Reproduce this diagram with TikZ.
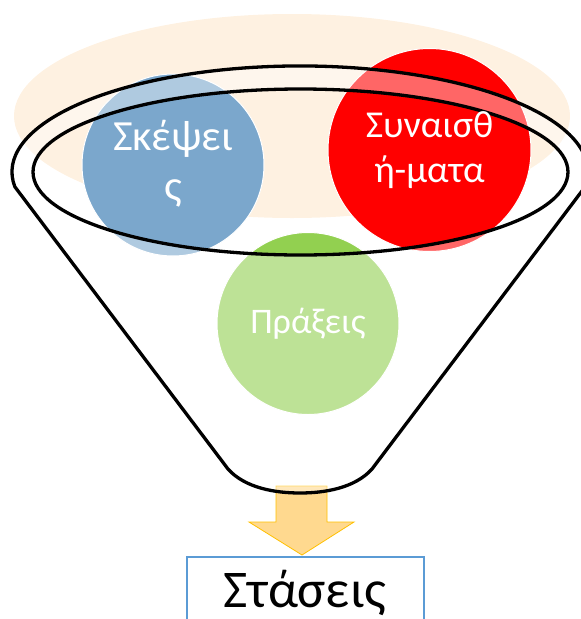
\documentclass[tikz,border=0pt]{standalone}
\usepackage{fontspec}
\setmainfont{Carlito}
\definecolor{beige}{HTML}{FEF1E1}
\definecolor{cblue}{HTML}{7BA7CC}
\definecolor{cred}{HTML}{FF0000}
\definecolor{cgreen}{HTML}{92D050}
\definecolor{arrowfill}{HTML}{FFD98F}
\definecolor{arrowline}{HTML}{FFC000}
\definecolor{boxline}{HTML}{5B9BD5}
\tikzset{
  ball/.style={circle, draw=white, line width=1pt, inner sep=0pt},
  balltext/.style={text=white, font=\fontsize{38}{45}\selectfont, align=center},
  funnelline/.style={draw=black, line width=3.3pt, line join=round},
}
\begin{document}
\begin{tikzpicture}[x=1pt,y=-1pt]
\useasboundingbox (0,0) rectangle (581,619);
\clip (0,0) rectangle (581,619);
% background beige ellipse
\fill[beige] (292,116) ellipse[x radius=278, y radius=102];
% circles
\node[ball, fill=cblue, minimum size=182pt] (think) at (173,165) {};
\node[ball, fill=cred, minimum size=203pt] (feel) at (429.5,150) {};
\node[ball, fill=cgreen, minimum size=182pt] (act) at (308,323.5) {};
% arrow
\path[fill=arrowfill, draw=arrowline, line width=0.8pt, line join=miter]
  (276,486) -- (327,486) -- (327,522) -- (354,522) -- (302,555)
  -- (249,522) -- (276,522) -- cycle;
\coordinate (arrowtip) at (302,555);
% funnel overlay
\fill[white, opacity=0.4, even odd rule]
  (14.8,186.7) arc[start angle=172, end angle=368, x radius=288, y radius=106]
  -- (372,469) .. controls (355,488) and (325,493) .. (300,493)
  .. controls (275,493) and (245,488) .. (228,469) -- cycle
  (300.5,172) ellipse[x radius=267.5, y radius=83];
\draw[funnelline]
  (14.8,186.7) arc[start angle=172, end angle=368, x radius=288, y radius=106]
  -- (372,469) .. controls (355,488) and (325,493) .. (300,493)
  .. controls (275,493) and (245,488) .. (228,469) -- cycle;
\draw[funnelline] (300.5,172) ellipse[x radius=267.5, y radius=83];
% texts
\node[balltext, font=\fontsize{43}{50}\selectfont] at ([yshift=1pt]think) {Σκέψει\\ς};
\node[balltext] at (feel) {Συναισθ\\ή-ματα};
\node[balltext, font=\fontsize{36}{43}\selectfont] at (act) {Πράξεις};
% result box
\draw[boxline, line width=1.5pt] (187,557) rectangle (424,650);
\node[anchor=base, font=\fontsize{53}{60}\selectfont, inner sep=0pt] (attitudes) at (305,607) {Στάσεις};
\end{tikzpicture}
\end{document}
